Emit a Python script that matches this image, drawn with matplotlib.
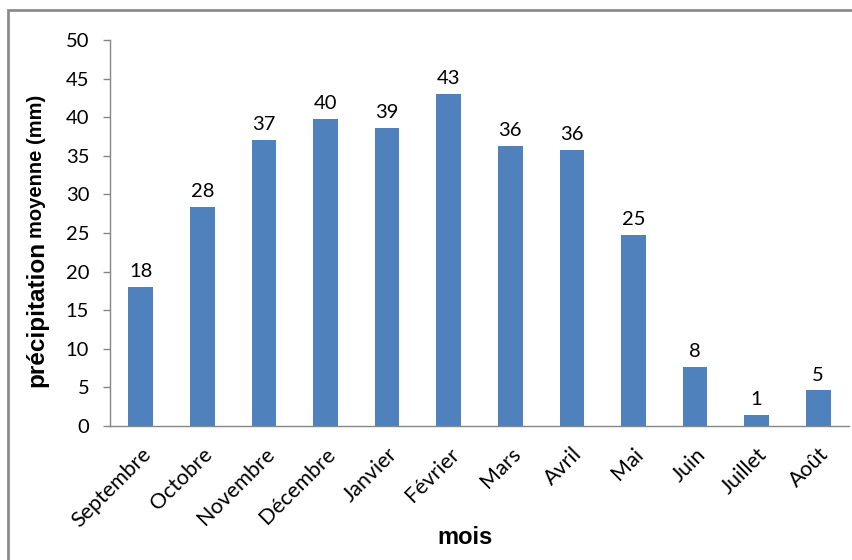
import matplotlib.pyplot as plt
from matplotlib.patches import Rectangle
from matplotlib.transforms import ScaledTranslation

# monthly mean rainfall
mois = ["Septembre", "Octobre", "Novembre", "Décembre", "Janvier", "Février",
        "Mars", "Avril", "Mai", "Juin", "Juillet", "Août"]
precip = [18.0, 28.4, 37.0, 39.8, 38.6, 43.0, 36.3, 35.7, 24.8, 7.6, 1.4, 4.6]
yticks = [0, 5, 10, 15, 20, 25, 30, 35, 40, 45, 50]

W, H = 853, 560
fig = plt.figure(figsize=(W / 100, H / 100), dpi=100)
ax = fig.add_axes([110 / W, 1 - 426 / H, (849 - 110) / W, (426 - 40) / H])

x = list(range(len(mois)))
bars = ax.bar(x, precip, width=0.4, color="#4F81BD", zorder=2)
for b, v in zip(bars, precip):
    ax.annotate(f"{v:.0f}", (b.get_x() + b.get_width() / 2, v),
                xytext=(0, 5), textcoords="offset points",
                ha="center", va="bottom", fontsize=14.5, family="Lato")

ax.set_xlim(-0.5, len(mois) - 0.5)
ax.set_ylim(0, 50)
ax.set_yticks(yticks)
ax.set_xticks(x)
ax.set_xticklabels(mois, rotation=45, ha="right", rotation_mode="anchor",
                   fontsize=15.5, family="Lato")
shift = ScaledTranslation(-5 / 100, 0, fig.dpi_scale_trans)
for lab in ax.get_xticklabels():
    lab.set_transform(lab.get_transform() + shift)
for lab in ax.get_yticklabels():
    lab.set_family("Lato")
    lab.set_fontsize(14.5)

for s in ["top", "right"]:
    ax.spines[s].set_visible(False)
for s in ["left", "bottom"]:
    ax.spines[s].set_color("#868686")
    ax.spines[s].set_linewidth(1.0)
ax.tick_params(axis="y", length=5, width=1, color="#868686", pad=10)
ax.tick_params(axis="x", length=0, pad=13)

# axis titles
fig.text(37 / W, 1 - 387 / H, "précipitation", rotation=90, ha="center",
         va="bottom", fontsize=17.5, fontweight="bold", family="Liberation Sans")
fig.text(37 / W, 1 - 238 / H, "moyenne (mm)", rotation=90, ha="center",
         va="bottom", fontsize=14.5, fontweight="bold", family="Liberation Sans")
fig.text(465 / W, 1 - 537 / H, "mois", ha="center", va="center",
         fontsize=17, fontweight="bold", family="Liberation Sans")

# chart frame
fig.patches.append(Rectangle((8 / W, -0.1), 1.2, 1 - 10 / H + 0.1,
                             transform=fig.transFigure, fill=False,
                             edgecolor="#8C8C8C", linewidth=2))

fig.savefig("out.png", dpi=100)
